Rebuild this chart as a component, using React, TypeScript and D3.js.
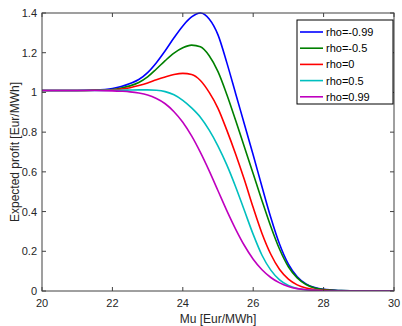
import React from 'react';
import * as d3 from 'd3';

// sample points along Mu [Eur/MWh]
const mu = [20, 21, 21.5, 22, 22.25, 22.5, 22.75, 23, 23.25, 23.5, 23.75, 24, 24.25, 24.5, 24.75, 25, 25.25, 25.5, 25.75, 26, 26.25, 26.5, 26.75, 27, 27.25, 27.5, 27.75, 28, 28.5, 29, 30];

const seriesNames = ['rho=-0.99', 'rho=-0.5', 'rho=0', 'rho=0.5', 'rho=0.99'];
const seriesColors = ['#0000ff', '#008000', '#ff0000', '#00bfbf', '#bf00bf'];

const rhoNeg099 = [1.01, 1.01, 1.012, 1.02, 1.03, 1.045, 1.065, 1.1, 1.15, 1.21, 1.275, 1.335, 1.38, 1.4, 1.37, 1.29, 1.15, 0.995, 0.84, 0.685, 0.525, 0.37, 0.235, 0.135, 0.072, 0.036, 0.017, 0.008, 0.002, 0, 0];
const rhoNeg05 = [1.01, 1.01, 1.011, 1.015, 1.022, 1.033, 1.05, 1.078, 1.118, 1.16, 1.198, 1.225, 1.238, 1.23, 1.185, 1.105, 0.99, 0.86, 0.725, 0.59, 0.455, 0.325, 0.21, 0.122, 0.066, 0.033, 0.015, 0.007, 0.002, 0, 0];
const rho0 = [1.01, 1.01, 1.011, 1.013, 1.017, 1.024, 1.035, 1.048, 1.064, 1.078, 1.09, 1.096, 1.09, 1.06, 1.0, 0.92, 0.81, 0.69, 0.56, 0.42, 0.29, 0.185, 0.108, 0.06, 0.031, 0.015, 0.007, 0.003, 0.001, 0, 0];
const rho05 = [1.01, 1.01, 1.01, 1.011, 1.011, 1.012, 1.013, 1.013, 1.011, 1.004, 0.988, 0.96, 0.922, 0.875, 0.81, 0.73, 0.635, 0.525, 0.405, 0.285, 0.18, 0.105, 0.056, 0.028, 0.013, 0.006, 0.003, 0.001, 0, 0, 0];
const rho099 = [1.01, 1.01, 1.01, 1.008, 1.006, 1.003, 0.997, 0.987, 0.969, 0.943, 0.903, 0.85, 0.781, 0.698, 0.605, 0.505, 0.405, 0.312, 0.229, 0.16, 0.107, 0.068, 0.041, 0.023, 0.012, 0.006, 0.003, 0.0014, 0.0002, 0, 0];

const allSeries = [rhoNeg099, rhoNeg05, rho0, rho05, rho099];

const xTicks = [20, 22, 24, 26, 28, 30];
const yTicks = [0, 0.2, 0.4, 0.6, 0.8, 1, 1.2, 1.4];

const W = 402;
const H = 326;
const margin = { top: 13, right: 8, bottom: 35, left: 42 };
const FONT = '"Liberation Sans", Arial, Helvetica, sans-serif';

export default function App() {
  const x = d3.scaleLinear().domain([20, 30]).range([margin.left, W - margin.right]);
  const y = d3.scaleLinear().domain([0, 1.4]).range([H - margin.bottom, margin.top]);

  const line = d3.line<number>()
    .x((_, i) => x(mu[i]))
    .y(d => y(d))
    .curve(d3.curveMonotoneX);

  const x0 = x.range()[0], x1 = x.range()[1];
  const y0 = y.range()[0], y1 = y.range()[1];
  const axisColor = '#404040';
  const tickLen = 4;

  // legend box
  const lgX = 297, lgY = 20, lgW = 96, lgRow = 16.2;

  return (
    <svg width={W} height={H} style={{ position: 'absolute', left: 0, top: 0, background: '#fff' }} fontFamily={FONT}>
      <rect x={0} y={0} width={W} height={H} fill="#fff" />
      <defs>
        <clipPath id="plotclip">
          <rect x={x0} y={y1 - 2} width={x1 - x0} height={y0 - y1 + 2} />
        </clipPath>
      </defs>

      <g clipPath="url(#plotclip)">
        {allSeries.map((s, i) => (
          <path key={i} d={line(s) || ''} fill="none" stroke={seriesColors[i]} strokeWidth={1.6} />
        ))}
      </g>

      {/* box */}
      <rect x={x0} y={y1} width={x1 - x0} height={y0 - y1} fill="none" stroke={axisColor} strokeWidth={1} />

      {/* x ticks */}
      {xTicks.map(t => (
        <g key={'x' + t}>
          <line x1={x(t)} x2={x(t)} y1={y0} y2={y0 - tickLen} stroke={axisColor} />
          <line x1={x(t)} x2={x(t)} y1={y1} y2={y1 + tickLen} stroke={axisColor} />
          <text x={x(t)} y={y0 + 16} textAnchor="middle" fontSize={11} fill="#262626">{t}</text>
        </g>
      ))}

      {/* y ticks */}
      {yTicks.map(t => (
        <g key={'y' + t}>
          <line x1={x0} x2={x0 + tickLen} y1={y(t)} y2={y(t)} stroke={axisColor} />
          <line x1={x1} x2={x1 - tickLen} y1={y(t)} y2={y(t)} stroke={axisColor} />
          <text x={x0 - 5} y={y(t) + 4} textAnchor="end" fontSize={11} fill="#262626">{d3.format('~g')(t)}</text>
        </g>
      ))}

      <text x={(x0 + x1) / 2} y={H - 3} textAnchor="middle" fontSize={12} fill="#262626">Mu [Eur/MWh]</text>
      <text transform={`translate(19,${(y0 + y1) / 2}) rotate(-90)`} textAnchor="middle" fontSize={12} fill="#262626">Expected profit [Eur/MWh]</text>

      {/* legend */}
      <rect x={lgX} y={lgY} width={lgW} height={84} fill="#fff" stroke="#000" strokeWidth={1} />
      {seriesNames.map((n, i) => {
        const cy = lgY + 12 + i * lgRow;
        return (
          <g key={n}>
            <line x1={lgX + 3} x2={lgX + 26} y1={cy} y2={cy} stroke={seriesColors[i]} strokeWidth={1.6} />
            <text x={lgX + 29} y={cy + 4} fontSize={11} fill="#000">{n}</text>
          </g>
        );
      })}
    </svg>
  );
}
